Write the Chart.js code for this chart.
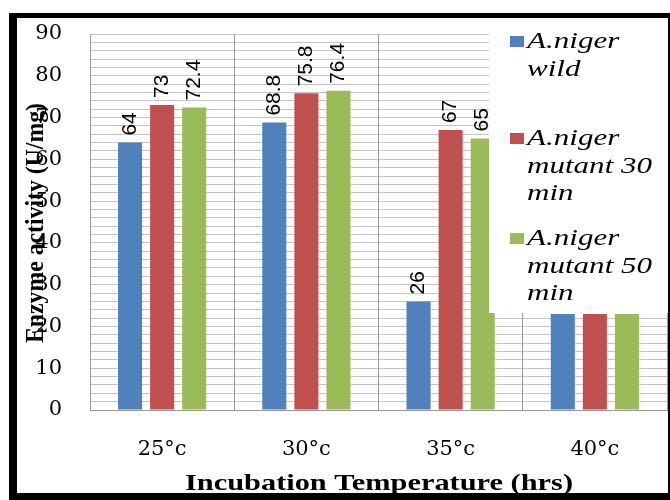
<!DOCTYPE html>
<html>
<head>
<meta charset="utf-8">
<script src="https://cdn.jsdelivr.net/npm/chart.js@4"></script>
<style>
  html, body { margin: 0; padding: 0; background: #fff; }
  #wrap { width: 670px; height: 500px; position: relative; }
</style>
</head>
<body>
<div id="wrap"><canvas id="enzymeChart"></canvas></div>
<script>
const categories = ['25°c', '30°c', '35°c', '40°c'];
const wildValues = [64, 68.8, 26, 23];
const mutant30Values = [73, 75.8, 67, 23];
const mutant50Values = [72.4, 76.4, 65, 23];
const seriesLabels = [
    ['A.niger', 'wild'],
    ['A.niger', 'mutant 30', 'min'],
    ['A.niger', 'mutant 50', 'min']
];
const yTitle = 'Enzyme activity (U/mg)';
const xTitle = 'Incubation Temperature (hrs)';

// rotated numbers above each bar
const valueLabels = {
    id: 'valueLabels',
    afterDatasetsDraw(chart) {
        const ctx = chart.ctx;
        chart.data.datasets.forEach((ds, i) => {
            chart.getDatasetMeta(i).data.forEach((bar, j) => {
                ctx.save();
                ctx.translate(bar.x, bar.y - 7);
                ctx.rotate(-Math.PI / 2);
                ctx.font = '21px "Liberation Sans"';
                ctx.fillStyle = '#000';
                ctx.textAlign = 'left';
                ctx.textBaseline = 'middle';
                ctx.fillText(String(ds.data[j]), 0, 0);
                ctx.restore();
            });
        });
    }
};

// legend box that sits over the top right of the plot
const sideLegend = {
    id: 'sideLegend',
    afterDraw(chart) {
        const ctx = chart.ctx;
        ctx.save();
        ctx.fillStyle = '#fff';
        ctx.fillRect(489, 18, 180, 295);
        const tops = [48, 145, 245];
        chart.data.datasets.forEach((ds, i) => {
            ctx.fillStyle = ds.backgroundColor;
            ctx.fillRect(510, tops[i] - 12, 14, 11);
            ctx.fillStyle = '#000';
            seriesLabels[i].forEach((line, k) => {
                ctx.save();
                ctx.translate(527, tops[i] + k * 27.5);
                ctx.scale(1.35, 1);
                ctx.font = 'italic 23px "Liberation Serif"';
                ctx.textBaseline = 'alphabetic';
                ctx.fillText(line, 0, 0);
                ctx.restore();
            });
        });
        ctx.restore();
    }
};

const axisTitles = {
    id: 'axisTitles',
    afterDraw(chart) {
        const ctx = chart.ctx;
        ctx.save();
        ctx.fillStyle = '#000';
        ctx.font = 'bold 23px "Liberation Serif"';
        ctx.textAlign = 'center';
        ctx.textBaseline = 'alphabetic';
        let w = ctx.measureText(xTitle).width;
        ctx.translate(379, 490);
        ctx.scale(388 / w, 1);
        ctx.fillText(xTitle, 0, 0);
        ctx.restore();

        ctx.save();
        ctx.fillStyle = '#000';
        ctx.font = 'bold 22px "Liberation Serif"';
        ctx.textAlign = 'center';
        ctx.textBaseline = 'middle';
        w = ctx.measureText(yTitle).width;
        ctx.translate(36, 223);
        ctx.rotate(-Math.PI / 2);
        ctx.scale(240 / w, 1.15);
        ctx.fillText(yTitle, 0, 0);
        ctx.restore();
    }
};

const frame = {
    id: 'frame',
    afterDraw(chart) {
        const ctx = chart.ctx;
        ctx.save();
        ctx.fillStyle = '#000';
        ctx.fillRect(9, 13, 8, 487);
        ctx.fillRect(9, 13, 661, 5);
        ctx.fillRect(9, 493, 661, 7);
        ctx.fillRect(668, 13, 2, 487);
        ctx.restore();
    }
};

new Chart(document.getElementById('enzymeChart'), {
    type: 'bar',
    data: {
        labels: categories,
        datasets: [
            { label: 'A.niger wild', data: wildValues, backgroundColor: '#4F81BD' },
            { label: 'A.niger mutant 30 min', data: mutant30Values, backgroundColor: '#C0504D' },
            { label: 'A.niger mutant 50 min', data: mutant50Values, backgroundColor: '#9BBB59' }
        ]
    },
    options: {
        responsive: true,
        maintainAspectRatio: false,
        animation: false,
        datasets: {
            bar: { barPercentage: 0.75, categoryPercentage: 0.667 }
        },
        layout: { padding: { top: 34, right: 3, left: 0, bottom: 0 } },
        plugins: {
            legend: { display: false },
            tooltip: { enabled: false }
        },
        scales: {
            y: {
                min: 0,
                max: 90,
                afterFit: (s) => { s.width = 90; s.paddingTop = 0; s.paddingBottom = 0; },
                ticks: {
                    stepSize: 2,
                    autoSkip: false,
                    padding: 28,
                    color: '#000',
                    font: { family: '"DejaVu Serif"', size: 21 },
                    callback: (v) => (v % 10 === 0 ? v : '')
                },
                grid: { color: '#c4c4c4', drawTicks: false },
                border: { color: '#999' }
            },
            x: {
                afterFit: (s) => { s.height = 90; },
                ticks: {
                    padding: 27,
                    color: '#000',
                    font: { family: '"DejaVu Serif"', size: 21 }
                },
                grid: { color: '#999', drawTicks: false },
                border: { color: '#999' }
            }
        }
    },
    plugins: [valueLabels, sideLegend, axisTitles, frame]
});
</script>
</body>
</html>
